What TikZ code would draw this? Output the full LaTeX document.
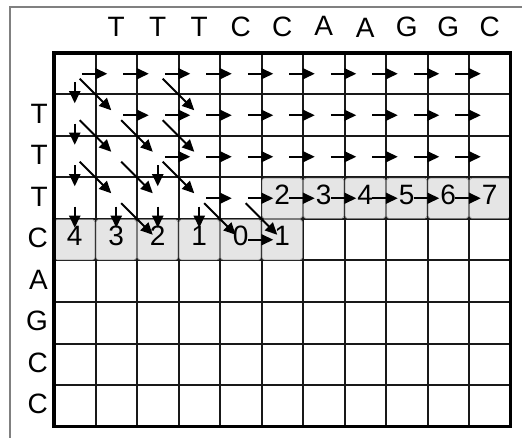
\documentclass[tikz,border=0pt]{standalone}
\usepackage{fontspec}
\setmainfont{Liberation Sans}
\usetikzlibrary{arrows.meta}
\begin{document}
\begin{tikzpicture}[x=1pt,y=-1pt,
  lbl/.style={font=\fontsize{28}{28}\selectfont, inner sep=0pt, anchor=base},
  rlbl/.style={lbl, anchor=base east},
  gridl/.style={line width=2pt, black!90},
  gridframe/.style={line width=3.2pt, black},
  shade/.style={fill=black!10, draw=black!45, line width=0.6pt, rounded corners=2.5pt},
  arr/.style={line width=2pt, -{Triangle[length=12pt,width=11pt]}},
  harr/.style={arr, shorten <=7pt, shorten >=9pt},
  varr/.style={arr, shorten <=8.5pt, shorten >=12pt},
  darr/.style={arr, shorten <=7pt, shorten >=7pt},
  outerline/.style={line width=1.4pt, black!50}]
\useasboundingbox (0,0) rectangle (522,438);
% outer frame (top and left)
\draw[outerline] (10,438) -- (10,7) -- (522,7);
% cell centres
\foreach \r in {0,...,8}
  \foreach \c in {0,...,10}
    \coordinate (c\r-\c) at ({54+41.5*(\c+0.5)},{53+41.5*(\r+0.5)});
% inner grid lines
\foreach \c in {1,...,10}
  \draw[gridl] ({54+41.5*\c},53) -- ({54+41.5*\c},426.5);
\foreach \r in {1,...,8}
  \draw[gridl] (54,{53+41.5*\r}) -- (510.5,{53+41.5*\r});
% shaded cells
\foreach \c in {5,...,10}
  \filldraw[shade] ({54+41.5*\c+0.6},{53+41.5*3+0.6}) rectangle ++(40.3,40.3);
\foreach \c in {0,...,5}
  \filldraw[shade] ({54+41.5*\c+0.6},{53+41.5*4+0.6}) rectangle ++(40.3,40.3);
% grid frame
\draw[gridframe] (54,53) rectangle (510.5,426.5);
% column header
\foreach \ch/\yb [count=\i] in {T/37,T/37,T/37,C/37,C/37,A/36,A/38,G/37,G/37,C/37}
  \node[lbl] (h\i) at ({54+41.5*(\i+0.5)},\yb) {\ch};
% row header
\foreach \ch [count=\i] in {T,T,T,C,A,G,C,C}
  \node[rlbl] (v\i) at (48,{53+41.5*(\i+0.5)+8}) {\ch};
% numbers
\foreach \n [count=\i from 5] in {2,3,4,5,6,7}
  \node[lbl] (n3-\i) at ({54+41.5*(\i+0.5)},{53+41.5*3.5+6}) {\n};
\foreach \n [count=\i from 0] in {4,3,2,1,0,1}
  \node[lbl] (n4-\i) at ({54+41.5*(\i+0.5)},{53+41.5*4.5+6}) {\n};
% horizontal arrows
\foreach \c in {0,...,9} {\pgfmathtruncatemacro\d{\c+1}\draw[harr] (c0-\c) -- (c0-\d);}
\foreach \c in {1,...,9} {\pgfmathtruncatemacro\d{\c+1}\draw[harr] (c1-\c) -- (c1-\d);}
\foreach \c in {2,...,9} {\pgfmathtruncatemacro\d{\c+1}\draw[harr] (c2-\c) -- (c2-\d);}
\foreach \c in {3,...,9} {\pgfmathtruncatemacro\d{\c+1}\draw[harr] (c3-\c) -- (c3-\d);}
\draw[harr] (c4-4) -- (c4-5);
% vertical arrows
\foreach \r/\c in {0/0,1/0,2/0,3/0,2/2,3/1,3/2,3/3}
  {\pgfmathtruncatemacro\s{\r+1}\draw[varr] (c\r-\c) -- (c\s-\c);}
% diagonal arrows
\foreach \r/\c in {0/0,1/0,1/1,2/0,2/1,3/1,0/2,1/2,2/2,3/3,3/4}
  {\pgfmathtruncatemacro\s{\r+1}\pgfmathtruncatemacro\d{\c+1}\draw[darr] (c\r-\c) -- (c\s-\d);}
\end{tikzpicture}
\end{document}
